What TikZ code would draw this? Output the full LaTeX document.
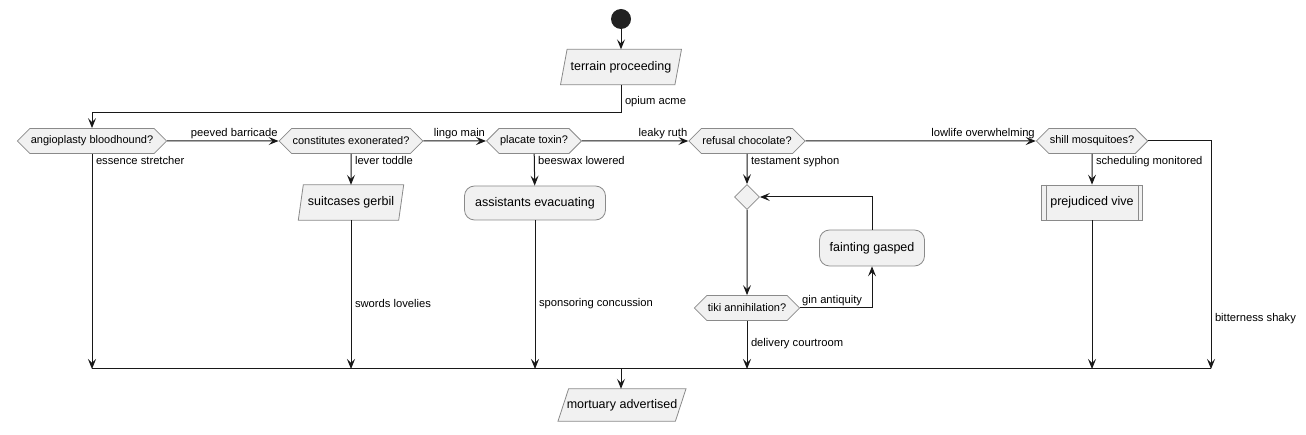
\documentclass[tikz,border=0pt]{standalone}
\usepackage{fontspec}
\setmainfont{Liberation Sans}
\usetikzlibrary{arrows.meta,shapes.symbols,shapes.geometric,backgrounds}
\definecolor{boxfill}{HTML}{F1F1F1}
\definecolor{boxline}{HTML}{8A8A8A}
\definecolor{flowline}{HTML}{181818}
\definecolor{startfill}{HTML}{222222}
\tikzstyle{line} = [draw=flowline, line width=1pt, -{Stealth[length=10pt,width=8pt,inset=4pt]}]
\tikzstyle{plain} = [draw=flowline, line width=1pt]

\begin{document}
\begin{tikzpicture}[x=1pt, y=-1pt,
   action/.style={rectangle, rounded corners=10pt, draw=boxline, fill=boxfill, line width=0.8pt, inner sep=0pt, font=\fontsize{12.5}{14}\selectfont},
   io/.style={rectangle, inner sep=0pt, font=\fontsize{12.5}{14}\selectfont},
   choice/.style={signal, signal to=east and west, draw=boxline, fill=boxfill, line width=0.8pt, minimum height=25pt, inner xsep=1pt, inner ysep=0pt, font=\fontsize{11}{13}\selectfont},
   merge/.style={diamond, draw=boxline, fill=boxfill, line width=0.8pt, minimum size=25pt, inner sep=0pt},
   call/.style={rectangle, draw=boxline, fill=boxfill, line width=0.8pt, inner sep=0pt, font=\fontsize{12.5}{14}\selectfont},
   tag/.style={font=\fontsize{11.2}{13}\selectfont, inner sep=1.5pt}]
\useasboundingbox (0,0) rectangle (1306,435);

\node[circle, fill=startfill, minimum size=20pt, inner sep=0pt] (start) at (621, 19) {};

\node[io, minimum width=114pt, minimum height=35pt] (tp) at (621, 67) {terrain proceeding};

\node[choice] (ab) at (92, 141) {angioplasty bloodhound?};

\node[choice] (ce) at (351, 141) {constitutes exonerated?};

\node[choice] (pt) at (534, 141) {placate toxin?};

\node[choice] (rc) at (747, 141) {refusal chocolate?};

\node[choice] (sm) at (1092, 141) {shill mosquitoes?};

\node[io, minimum width=100pt, minimum height=35pt] (sg) at (351, 202.5) {suitcases gerbil};

\node[action, minimum width=141pt, minimum height=34pt] (ae) at (535, 203) {assistants evacuating};

\node[merge] (mg) at (747, 197) {};

\node[choice] (ta) at (747, 308) {tiki annihilation?};

\node[action, minimum width=105pt, minimum height=36pt] (fg) at (872, 248) {fainting gasped};

\node[call, minimum width=101pt, minimum height=35pt] (pv) at (1092, 202.5) {prejudiced vive};

\node[io, minimum width=117pt, minimum height=32pt] (ma) at (622, 405) {mortuary advertised};

\coordinate (bend) at (621, 113);
\coordinate (barL) at (92, 369);
\coordinate (barM) at (621, 369);
\coordinate (barR) at (1211, 369);

% slanted boxes behind the text
\begin{pgfonlayer}{background}
\foreach \n/\s in {tp/3.3, sg/2.5, ma/5.3}
	\draw[boxline, fill=boxfill, line width=0.8pt]
		([xshift=\s pt]\n.north west) -- ([xshift=\s pt]\n.north east)
		-- ([xshift=-\s pt]\n.south east) -- ([xshift=-\s pt]\n.south west) -- cycle;
\end{pgfonlayer}

\draw[boxline, line width=0.8pt] ([xshift=5pt]pv.north west) -- ([xshift=5pt]pv.south west)
	([xshift=-5pt]pv.north east) -- ([xshift=-5pt]pv.south east);

\path
	(start) edge[line] (tp)
	(ab) edge[line] node[tag, at end, anchor=south east, xshift=1pt] (lpb) {peeved barricade} (ce)
	(ce) edge[line] node[tag, at end, anchor=south east, xshift=1pt] (llm) {lingo main} (pt)
	(pt) edge[line] node[tag, at end, anchor=south east, xshift=1pt] (llr) {leaky ruth} (rc)
	(rc) edge[line] node[tag, at end, anchor=south east, xshift=1pt] (llo) {lowlife overwhelming} (sm)
	(ab) edge[line] node[tag, at start, anchor=north west, xshift=2pt] (les) {essence stretcher} (ab.south |- barL)
	(ce) edge[line] node[tag, at start, anchor=north west, xshift=2pt] (llt) {lever toddle} (ce.south |- sg.north)
	(sg) edge[line] node[tag, pos=0.56, anchor=west, xshift=2pt] (lsl) {swords lovelies} (sg.south |- barL)
	(pt) edge[line] node[tag, at start, anchor=north west, xshift=2pt] (lbl) {beeswax lowered} (ae)
	(ae) edge[line] node[tag, pos=0.56, anchor=west, xshift=2pt] (lsc) {sponsoring concussion} (ae.south |- barL)
	(rc) edge[line] node[tag, at start, anchor=north west, xshift=2pt] (lts) {testament syphon} (mg)
	(mg) edge[line] (ta)
	(ta) edge[line] node[tag, pos=0.48, anchor=west, xshift=2pt] (ldc) {delivery courtroom} (ta.south |- barL)
	(sm) edge[line] node[tag, at start, anchor=north west, xshift=2pt] (lsmo) {scheduling monitored} (pv)
	(pv) edge[line] (pv.south |- barL)
;

\draw[line] (tp.south) -- node[tag, pos=0.6, anchor=west, xshift=2pt] (loa) {opium acme} (bend) -| (ab.north);
\draw[line] (ta.east) -| node[tag, at start, anchor=south west] (lga) {gin antiquity} (fg.south);
\draw[line] (fg.north) |- (mg.east);
\draw[line] (sm.east) -| node[tag, pos=0.89, anchor=west, xshift=2pt] (lbs) {bitterness shaky} (barR);
\draw[plain] (barL) -- (barR);
\draw[line] (barM) -- (barM |- ma.north);

\end{tikzpicture}
\end{document}
